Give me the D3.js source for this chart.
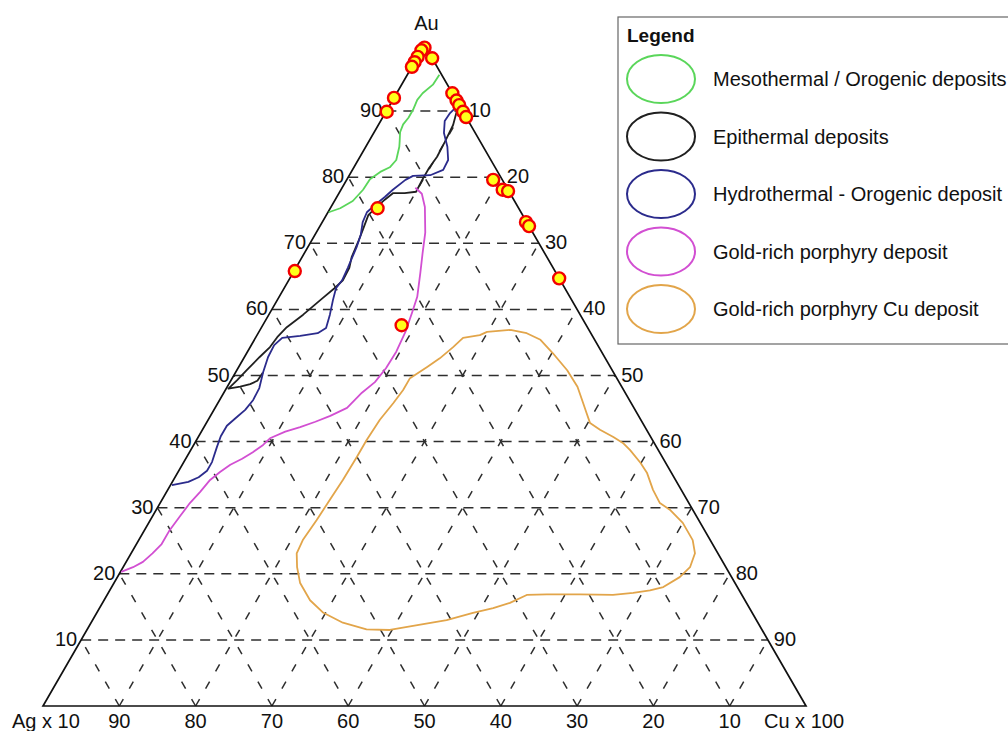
<!DOCTYPE html>
<html>
<head>
<meta charset="utf-8">
<script src="https://cdn.jsdelivr.net/npm/d3@7"></script>
<style>
  body { margin: 0; background: #fff; }
  text { font-family: "Liberation Sans", Arial, sans-serif; fill: #111; }
</style>
</head>
<body>
<svg id="chart" width="1008" height="731"></svg>
<script>
const TICKS = [10, 20, 30, 40, 50, 60, 70, 80, 90]

const DEPOSITS = ['Mesothermal / Orogenic deposits', 'Epithermal deposits',
  'Hydrothermal - Orogenic deposit', 'Gold-rich porphyry deposit', 'Gold-rich porphyry Cu deposit']
const COLORS = ['#5ad65a', '#202020', '#2b2b8c', '#d24fd2', '#e2a54a']

// field outlines, each vertex as [Au, Cu x 100] (Ag x 10 = 100 - Au - Cu)
const mesothermal = [[95.5, 4.2], [94.0, 4.1], [92.7, 3.4], [91.7, 3.2], [90.2, 3.4], [89.0, 3.4],
  [88.0, 3.2], [86.8, 3.4], [85.5, 4.0], [84.6, 4.4], [82.6, 5.0], [81.5, 4.7], [80.8, 3.8],
  [79.7, 3.0], [78.1, 2.9], [76.4, 2.4], [75.3, 1.3], [74.7, 0.1]]

const epithermal = [[90.5, 9.1], [87.9, 9.8], [85.3, 10.0], [83.1, 10.1], [81.4, 9.9], [79.6, 9.9],
  [77.8, 10.0], [77.6, 8.6], [77.6, 7.1], [76.6, 6.5], [75.5, 6.0], [74.3, 5.5], [72.0, 5.9],
  [70.2, 6.2], [67.9, 6.5], [66.3, 7.0], [64.4, 7.1], [63.2, 6.6], [61.7, 5.8], [59.2, 4.5],
  [57.3, 3.3], [55.8, 2.8], [54.3, 2.6], [52.8, 2.0], [50.8, 1.3], [49.3, 0.8], [48.0, 0.3],
  [48.3, 1.7], [48.7, 2.8], [49.2, 3.5], [50.4, 3.6]]

const hydrothermal = [[90.5, 8.8], [89.7, 8.5], [88.5, 8.4], [86.7, 9.2], [84.6, 10.7], [82.6, 11.8],
  [81.1, 11.9], [80.3, 10.6], [80.2, 8.4], [79.6, 7.7], [78.1, 6.8], [77.0, 6.3], [75.8, 5.6],
  [74.7, 5.1], [73.2, 5.3], [71.3, 6.0], [69.4, 6.4], [67.8, 6.6], [66.3, 6.8], [64.4, 7.0],
  [63.2, 6.8], [61.4, 7.3], [59.2, 8.0], [57.2, 8.5], [56.4, 7.8], [56.0, 5.7], [55.7, 3.5],
  [54.6, 3.0], [52.8, 3.1], [50.5, 3.6], [48.1, 4.3], [46.3, 4.4], [44.8, 4.1], [43.6, 3.5],
  [42.4, 2.9], [40.8, 2.9], [39.2, 3.2], [36.9, 3.7], [35.6, 3.7], [34.6, 3.1], [33.9, 2.1],
  [33.4, 0.2]]

const porphyry = [[78.4, 9.6], [77.5, 10.9], [75.5, 12.3], [71.6, 14.3], [68.5, 15.5], [65.5, 16.7],
  [61.9, 18.1], [59.6, 18.6], [56.6, 19.2], [53.6, 19.5], [51.1, 19.4], [49.0, 19.0], [47.4, 18.1],
  [45.1, 17.3], [43.9, 15.7], [43.0, 14.2], [42.2, 12.6], [41.5, 11.0], [40.5, 9.5], [39.5, 9.1],
  [38.4, 8.3], [37.4, 7.4], [36.5, 6.3], [35.4, 5.5], [34.2, 4.8], [32.4, 4.4], [30.7, 3.9],
  [28.7, 3.6], [26.6, 3.3], [24.5, 3.3], [23.1, 2.8], [21.8, 2.2], [21.0, 1.3], [20.3, 0.1]]

const porphyryCu = [[56.9, 32.8], [56.6, 29.9], [56.1, 29.2], [55.7, 27.2], [54.3, 26.6], [52.6, 25.7],
  [51.3, 24.7], [49.6, 23.3], [47.8, 23.3], [45.8, 23.0], [43.3, 22.5], [40.2, 22.3], [37.7, 22.3],
  [34.2, 22.2], [31.2, 22.0], [28.1, 21.8], [25.1, 21.5], [23.1, 21.7], [21.0, 22.8], [18.6, 24.4],
  [16.0, 27.0], [14.1, 29.7], [12.6, 33.0], [11.6, 36.6], [11.5, 39.7], [12.3, 43.3], [13.0, 46.4],
  [14.1, 49.3], [14.8, 51.6], [15.6, 53.4], [16.8, 55.0], [16.9, 57.6], [16.9, 61.9], [16.8, 66.3],
  [17.1, 68.8], [17.5, 70.8], [18.0, 72.3], [19.5, 73.7], [21.0, 74.3], [23.1, 73.9], [25.1, 72.6],
  [27.7, 70.0], [29.7, 67.3], [30.7, 65.5], [32.7, 63.6], [35.3, 61.5], [36.8, 59.9], [38.7, 57.6],
  [39.8, 56.1], [40.7, 54.4], [41.8, 52.1], [42.8, 50.3], [44.3, 49.1], [45.8, 47.9], [48.3, 45.9],
  [50.8, 43.3], [53.4, 40.1], [55.4, 37.5], [56.4, 35.2], [56.9, 32.8]]

const FIELDS = [mesothermal, epithermal, hydrothermal, porphyry, porphyryCu]

// samples [Au, Cu x 100]
const samples = [[99.6, 0.2], [99.2, 0.0], [98.2, 0.0], [97.4, 0.0], [96.7, 0.0], [98.0, 2.0],
  [92.0, 0.0], [89.9, 0.1], [92.7, 7.3], [91.6, 8.4], [90.9, 9.1], [89.9, 10.1], [89.1, 10.9],
  [79.6, 19.2], [78.1, 21.2], [77.9, 22.0], [73.2, 26.7], [72.6, 27.4], [64.7, 35.3],
  [75.3, 6.2], [65.8, 0.1], [57.6, 18.2]]

const svg = d3.select('#chart')

const xScale = d3.scaleLinear().domain([0, 100]).range([43, 806])
const yScale = d3.scaleLinear().domain([0, 100]).range([706, 45])

const pt = ([au, cu]) => [xScale(cu + au / 2), yScale(au)]
const line = d3.line().x(d => pt(d)[0]).y(d => pt(d)[1])

// grid
const grid = svg.append('g').attr('stroke', '#2e2e2e').attr('stroke-width', 1.5).attr('fill', 'none')
TICKS.forEach(k => {
  grid.append('path').attr('d', line([[k, 0], [k, 100 - k]])).attr('stroke-dasharray', '10,7')
  grid.append('path').attr('d', line([[0, k], [100 - k, k]])).attr('stroke-dasharray', '8,12')
  grid.append('path').attr('d', line([[0, 100 - k], [100 - k, 0]])).attr('stroke-dasharray', '8,12')
})

// frame
svg.append('path')
  .attr('d', line([[0, 0], [100, 0], [0, 100], [0, 0]]) + 'Z')
  .attr('fill', 'none').attr('stroke', '#111').attr('stroke-width', 1.7)

// tick labels
const labels = svg.append('g').style('font-size', '20px')
labels.selectAll('.left').data(TICKS).enter().append('text')
  .attr('x', k => pt([k, 0])[0] - 4).attr('y', k => yScale(k) + 6)
  .attr('text-anchor', 'end').text(k => k)
labels.selectAll('.right').data(TICKS).enter().append('text')
  .attr('x', k => pt([100 - k, k])[0] + 6).attr('y', k => yScale(100 - k) + 6)
  .attr('text-anchor', 'start').text(k => k)
labels.selectAll('.bottom').data(TICKS).enter().append('text')
  .attr('x', k => xScale(100 - k)).attr('y', 728)
  .attr('text-anchor', 'middle').text(k => k)

labels.append('text').attr('x', xScale(50) + 2).attr('y', 30).attr('text-anchor', 'middle').text('Au')
labels.append('text').attr('x', 12).attr('y', 728).text('Ag x 10')
labels.append('text').attr('x', 764).attr('y', 728).text('Cu x 100')

// fields
svg.append('g').selectAll('path').data(FIELDS).enter().append('path')
  .attr('d', d => line(d))
  .attr('fill', 'none')
  .attr('stroke', (d, i) => COLORS[i])
  .attr('stroke-width', 1.8)
  .attr('stroke-linejoin', 'round')

// samples
svg.append('g').selectAll('circle').data(samples).enter().append('circle')
  .attr('cx', d => pt(d)[0]).attr('cy', d => pt(d)[1])
  .attr('r', 6)
  .attr('fill', '#ffff1a').attr('stroke', '#f20000').attr('stroke-width', 2.4)

// legend
const legend = svg.append('g').attr('transform', 'translate(618, 17)')
legend.append('rect').attr('width', 420).attr('height', 327)
  .attr('fill', '#fff').attr('stroke', '#666').attr('stroke-width', 1.2)
legend.append('text').attr('x', 9).attr('y', 25)
  .style('font-size', '19px').style('font-weight', 'bold').text('Legend')
const items = legend.selectAll('.item').data(DEPOSITS).enter().append('g')
  .attr('transform', (d, i) => `translate(0, ${62 + i * 57.5})`)
items.append('ellipse').attr('cx', 43).attr('rx', 34).attr('ry', 24)
  .attr('fill', 'none').attr('stroke', (d, i) => COLORS[i]).attr('stroke-width', 2)
items.append('text').attr('x', 95).attr('y', 7).style('font-size', '20px').text(d => d)
</script>
</body>
</html>
